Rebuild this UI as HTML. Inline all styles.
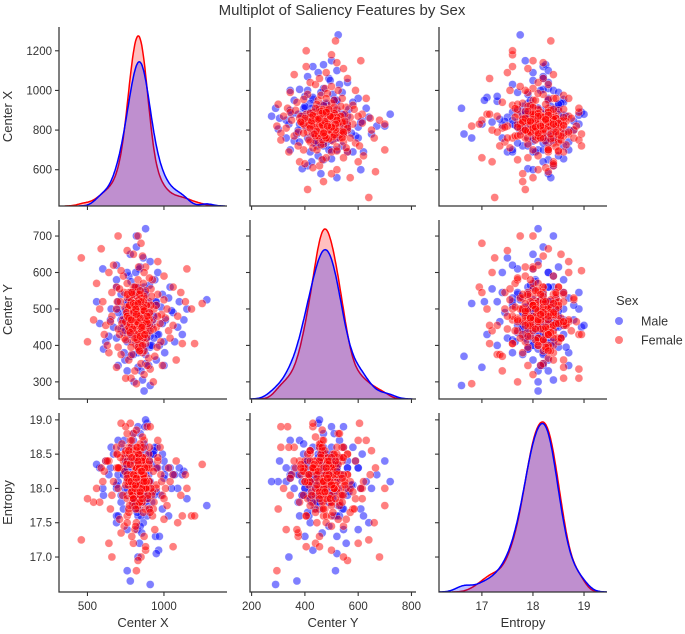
<!DOCTYPE html>
<html><head><meta charset="utf-8"><style>
html,body{margin:0;padding:0;background:#fff;}
svg{display:block;font-family:"Liberation Sans",sans-serif;}
</style></head><body>
<svg id="chart" width="685" height="634" viewBox="0 0 685 634">
<text x="342" y="15" text-anchor="middle" font-size="15" fill="#333">Multiplot of Saliency Features by Sex</text>
<g id="plots"></g>
<g>
<text x="616" y="305" font-size="13" fill="#333">Sex</text>
<circle cx="619" cy="321" r="4" fill="#0000ff" fill-opacity="0.5"/>
<text x="641" y="325.5" font-size="12.5" fill="#333">Male</text>
<circle cx="619" cy="340" r="4" fill="#ff0000" fill-opacity="0.5"/>
<text x="641" y="344.5" font-size="12.5" fill="#333">Female</text>
</g>
</svg>
<script>
const varNames = ["Center X","Center Y","Entropy"];
const maleX = [812,905,760,870,690,955,830,780,1010,845,720,880,800,935,650,860,770,990,840,910,700,825,875,745,960,810,1060,620,890,800,850,735,920,780,870,690,1005,830,760,945,880,720,815,1090,655,840,900,780,965,830,740,870,1040,805,930,690,850,760,910,1280,820,580,980,870,720,840,950,795,1120,865,560,890,760,1000,830,700,940,815,880,1130,605,845,760,1030,900,670,820,970,875,780,1100,600,860,735,990,845,910,700,820,1070,910,785,640,1050,880,760,950,815,700,880,830,905,750,1000,855,690,935,795,1150,870,
780,860,820,900,750,840,880,805,930,770,850,815,890,735,870,825,795,910,845,760,880,800,835,950,790,865,815,740,895,830,855,775,920,810,840,785,875,825,760,905,845,800,870,820,890,765,835,810,860,790];
const maleY = [455,520,410,498,560,430,380,505,470,615,445,350,530,480,470,420,590,540,470,395,500,545,455,360,600,440,490,410,510,470,330,480,455,650,560,420,380,500,440,520,475,540,405,450,500,610,345,465,430,525,380,490,560,300,470,620,445,515,400,525,700,460,505,275,470,555,360,485,430,640,520,450,600,410,340,490,580,425,720,470,390,510,330,530,490,450,670,400,545,370,520,610,305,435,460,490,630,345,560,410,290,545,425,495,375,470,520,600,520,455,420,565,500,345,465,580,420,520,500,395,
430,510,470,455,495,400,540,445,480,520,415,560,470,450,390,500,535,425,485,460,505,375,450,510,480,420,545,470,440,495,465,525,400,490,435,575,470,410,520,455,500,440,480,530,420,465,390,505,450,485];
const maleE = [18.2,18.4,17.9,18.3,18.0,18.6,17.6,18.1,18.3,18.5,17.8,18.2,18.7,17.9,18.3,18.0,18.4,17.7,18.2,18.5,18.1,17.4,18.6,18.0,18.3,17.9,18.2,18.4,17.6,18.8,18.1,18.3,17.8,18.0,18.4,17.5,18.2,18.9,18.1,17.3,18.5,17.9,18.3,18.0,18.6,17.7,18.2,18.4,17.1,18.0,18.7,17.8,18.3,18.1,18.5,17.6,18.2,16.8,18.0,17.75,18.4,18.3,17.9,18.1,18.6,17.2,18.3,18.0,18.2,17.5,18.35,18.95,17.4,18.4,17.0,18.2,18.6,17.8,18.1,18.25,17.9,18.8,18.3,17.6,18.0,18.5,18.2,17.3,18.9,16.65,18.3,18.0,18.4,17.7,18.5,17.45,18.1,18.7,17.9,18.2,16.6,18.6,18.2,18.0,17.8,18.4,17.05,18.3,17.6,19.0,18.1,17.95,18.45,18.15,17.35,18.05,18.55,18.25,17.85,18.65,
17.9,18.3,18.1,17.7,18.4,18.0,18.2,17.8,18.5,18.1,17.6,18.3,18.0,18.2,17.9,18.4,17.75,18.1,18.35,18.0,17.85,18.2,18.45,17.95,18.1,18.3,17.7,18.25,18.0,18.5,17.9,18.15,18.35,17.8,18.2,18.05,18.4,17.65,18.3,18.1,17.95,18.25,18.0,18.45,17.85,18.2,18.1,18.35,17.9,18.15];
const femaleX = [830,870,790,910,760,850,820,880,740,800,950,690,860,780,900,820,735,980,845,770,880,710,925,800,850,660,960,790,870,745,1010,830,700,890,770,935,620,860,810,975,760,900,840,690,1040,800,870,730,955,820,580,915,785,1090,850,670,990,760,880,810,460,1250,700,930,640,1060,850,780,1120,600,820,900,740,860,1000,700,950,790,870,650,1180,560,910,760,1030,830,690,880,1110,610,800,845,775,890,820,760,930,865,715,985,540,1150,720,960,640,1080,830,750,1000,500,840,795,870,725,925,815,880,760,1020,695,855,785,905,745,835,960,710,890,820,770,1200,590,870,660,1140,800,940,720,1060,630,815,860,795,885,835,750,905,845,780,920,
800,845,870,815,760,890,830,855,785,905,820,840,875,795,770,860,810,835,895,750,880,825,790,865,915,805,845,775,850,830,860,785,820,900,765,840,810,875,830,795,855,770,885,820,845,800,870,780,835,910,815,850,790,865,825,755,880,840,805,860,830,775,895,820,845,790,870,810,835,760,855,820,885,800,840,770,865,825,905,795,850,815,780,870,835,810,890,845,760,825,800,860,830,785,875,815,845,790,855,820];
const femaleY = [470,430,510,490,455,540,400,475,420,560,450,500,380,465,520,445,590,410,495,360,615,430,470,525,350,480,540,410,455,505,475,580,395,430,545,500,455,645,330,460,480,365,520,560,420,440,600,470,395,485,500,555,310,480,415,620,345,530,500,460,640,515,700,300,380,560,680,430,405,520,295,470,545,440,590,445,510,375,530,465,500,570,335,660,440,560,340,405,545,430,505,465,450,510,420,490,445,570,520,485,470,610,375,630,600,360,700,310,525,410,445,535,385,460,580,500,440,570,500,520,525,395,455,440,615,480,555,345,465,505,405,665,320,545,520,650,370,605,455,400,480,500,465,420,540,415,585,385,545,535,
470,500,440,520,480,455,410,530,495,470,545,425,505,460,440,485,515,390,480,465,550,435,500,420,510,475,455,530,400,490,460,520,445,480,505,430,560,470,395,540,485,450,510,470,420,495,535,460,480,440,505,445,475,520,415,490,470,540,455,400,485,510,460,430,550,470,495,420,525,480,440,500,465,515,385,475,505,455,490,445,520,470,435,495,460,510,480,425,540,465,490,455,515,470,430,500,475,545,450,485];
const femaleE = [18.2,18.4,18.0,18.3,17.9,18.6,18.1,17.7,18.5,18.2,18.0,18.3,17.8,18.7,18.1,17.5,18.4,18.2,17.9,18.6,18.0,18.3,17.6,18.8,18.2,17.9,18.4,18.1,17.3,18.5,18.0,17.7,18.3,18.9,18.1,17.8,18.4,18.2,17.4,18.6,17.6,18.3,18.0,18.5,18.1,17.2,18.7,17.9,18.3,18.4,17.8,18.0,18.6,17.5,18.2,18.1,17.9,18.8,17.1,18.3,17.25,18.35,18.0,17.7,18.4,18.2,17.0,18.95,17.6,18.1,16.8,18.5,17.45,18.75,17.85,18.3,18.05,17.3,18.45,17.7,17.6,18.0,18.9,17.5,18.3,16.95,18.6,17.15,17.9,18.25,18.15,17.95,18.35,18.05,18.55,17.85,18.25,17.65,18.45,18.1,17.8,18.0,17.35,18.7,17.2,18.4,17.75,18.9,17.55,17.85,18.3,18.0,18.2,18.65,17.95,17.45,18.4,18.1,17.75,18.5,18.2,17.9,18.6,18.25,17.85,18.45,17.55,18.15,18.85,17.65,17.6,18.3,18.0,17.0,18.2,18.55,17.4,18.95,17.15,18.4,18.0,18.3,17.8,18.1,18.45,18.05,17.7,18.35,18.2,17.9,
18.1,18.3,17.9,18.2,18.4,18.0,18.5,17.8,18.2,18.1,18.6,17.95,18.35,18.15,17.7,18.45,18.05,18.25,17.85,18.55,18.1,18.3,17.9,18.4,18.0,18.2,18.65,17.75,18.3,18.1,18.45,17.95,18.2,18.35,18.05,17.8,18.5,18.15,18.25,17.9,18.4,18.1,18.0,18.3,18.55,17.85,18.2,18.45,18.05,17.65,18.3,18.15,17.95,18.6,18.2,18.35,18.0,17.8,18.4,18.1,18.25,18.5,17.9,18.3,18.05,18.7,18.15,17.75,18.35,18.2,18.0,18.45,18.1,17.85,18.3,18.55,18.2,17.95,18.4,18.05,18.25,17.7,18.35,18.1,18.5,18.0,18.3,17.9,18.15,18.6,18.2,17.85,18.4,18.1,18.3,18.05,17.95,18.45,18.25,18.15];
const ticksCol = [[500,1000],[200,400,600,800],[17,18,19]];
const ticksRow = [[600,800,1000,1200],[300,400,500,600,700],[17.0,17.5,18.0,18.5,19.0]];
const tickLabelsRow = [["600","800","1000","1200"],["300","400","500","600","700"],["17.0","17.5","18.0","18.5","19.0"]];
const colPx = [[59,227],[250,416],[439,607]];
const colDom = [[314,1412],[194,817],[16.16,19.45]];
const rowPx = [[27,206],[220,399],[413,592]];
const rowDom = [[1320,417],[744,253],[19.10,16.49]];

const NS="http://www.w3.org/2000/svg";
const root=document.getElementById('plots');
function mk(tag,attrs,parent){const e=document.createElementNS(NS,tag);for(const k in attrs)e.setAttribute(k,attrs[k]);(parent||root).appendChild(e);return e;}
function sx(c,v){const[a,b]=colPx[c],[d0,d1]=colDom[c];return a+(v-d0)/(d1-d0)*(b-a);}
function sy(r,v){const[a,b]=rowPx[r],[d0,d1]=rowDom[r];return a+(v-d0)/(d1-d0)*(b-a);}
const male=[maleX,maleY,maleE], female=[femaleX,femaleY,femaleE];
function kde(arr,n){const m=arr.reduce((a,b)=>a+b,0)/arr.length;const sd=Math.sqrt(arr.reduce((a,b)=>a+(b-m)*(b-m),0)/(arr.length-1));const h=sd*Math.pow(arr.length,-0.2);const out=[];const lo2=Math.min(...arr)-3*h,hi2=Math.max(...arr)+3*h;for(let i=0;i<=n;i++){const x=lo2+(hi2-lo2)*i/n;let s=0;for(const v of arr){const z=(x-v)/h;s+=Math.exp(-0.5*z*z);}out.push([x,s/(arr.length*h*Math.sqrt(2*Math.PI))]);}return out;}

for(let r=0;r<3;r++)for(let c=0;c<3;c++){
  const g=mk('g',{});
  
  
  const clipId='clip'+r+c;
  const cp=mk('clipPath',{id:clipId},g);
  mk('rect',{x:colPx[c][0],y:rowPx[r][0],width:colPx[c][1]-colPx[c][0],height:rowPx[r][1]-rowPx[r][0]},cp);
  const pg=mk('g',{'clip-path':'url(#'+clipId+')'},g);
  if(r===c){
    const km=kde(male[c],200), kf=kde(female[c],200);
    const mx=Math.max(...km.map(p=>p[1]),...kf.map(p=>p[1]));
    const base=rowPx[r][1], H=(rowPx[r][1]-rowPx[r][0])*0.95;
    [[kf,'#ff0000','female'],[km,'#0000ff','male']].forEach(([k,col,nm])=>{
      const pts=k.map(p=>sx(c,p[0]).toFixed(1)+','+(base-p[1]/mx*H).toFixed(1));
      const f=mk('path',{d:'M'+sx(c,k[0][0])+','+base+' L'+pts.join(' L')+' L'+sx(c,k[k.length-1][0])+','+base+'Z',fill:col,'fill-opacity':0.25,stroke:'none'},pg);
      
      
      const l=mk('path',{d:'M'+pts.join(' L'),fill:'none',stroke:col,'stroke-width':1.5},pg);
      
      
    });
  } else {
    [[male,'#0000ff','male'],[female,'#ff0000','female']].forEach(([d,col,nm])=>{
      for(let i=0;i<d[0].length;i++){
        const p=mk('circle',{cx:sx(c,d[c][i]).toFixed(1),cy:sy(r,d[r][i]).toFixed(1),r:4,fill:col,'fill-opacity':0.5,stroke:'#fff','stroke-width':0.5,'stroke-opacity':0.6},pg);
        
        
      }
    });
  }
  const sp=mk('path',{d:'M'+colPx[c][0]+','+rowPx[r][0]+' V'+rowPx[r][1]+' H'+colPx[c][1],fill:'none',stroke:'#333','stroke-width':1.25},g);
  
  
  ticksRow[r].forEach((t,i)=>{const y=sy(r,t);mk('line',{x1:colPx[c][0]-4,x2:colPx[c][0],y1:y,y2:y,stroke:'#333','stroke-width':1.1},g);
    if(c===0){const tx=mk('text',{x:colPx[c][0]-7,y:y+4,'text-anchor':'end','font-size':11.5,fill:'#333'},g);tx.textContent=tickLabelsRow[r][i];
      
      }});
  ticksCol[c].forEach(t=>{const x=sx(c,t);mk('line',{x1:x,x2:x,y1:rowPx[r][1],y2:rowPx[r][1]+4,stroke:'#333','stroke-width':1.1},g);
    if(r===2){const tx=mk('text',{x:x,y:rowPx[r][1]+18,'text-anchor':'middle','font-size':11.5,fill:'#333'},g);tx.textContent=String(t);
      
      }});
}
for(let i=0;i<3;i++){
  const xl=mk('text',{x:(colPx[i][0]+colPx[i][1])/2,y:627,'text-anchor':'middle','font-size':13,fill:'#333'});
  xl.textContent=varNames[i];
  
  
  const cy=(rowPx[i][0]+rowPx[i][1])/2;
  const yl=mk('text',{x:0,y:0,transform:'translate(12,'+cy+') rotate(-90)','text-anchor':'middle','font-size':13,fill:'#333'});
  yl.textContent=varNames[i];
  
  
}
</script>
</body></html>
